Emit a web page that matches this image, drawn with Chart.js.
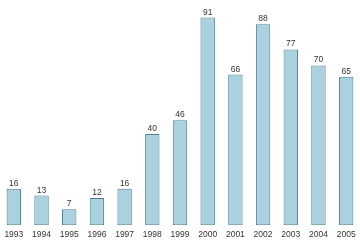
<!DOCTYPE html>
<html>
<head>
<meta charset="utf-8">
<script src="https://cdn.jsdelivr.net/npm/chart.js@4/dist/chart.umd.min.js"></script>
<style>
  html, body { margin: 0; padding: 0; background: #fff; }
  #wrap { width: 360px; height: 240px; }
</style>
</head>
<body>
<div id="wrap"><canvas id="chart"></canvas></div>
<script>
const years = ['1993', '1994', '1995', '1996', '1997', '1998', '1999', '2000', '2001', '2002', '2003', '2004', '2005'];
const counts = [16, 13, 7, 12, 16, 40, 46, 91, 66, 88, 77, 70, 65];

// writes the value just above each bar
const valueLabels = {
  id: 'valueLabels',
  afterDatasetsDraw(chart) {
    const ctx = chart.ctx;
    const meta = chart.getDatasetMeta(0);
    ctx.save();
    ctx.font = '8.5px "Liberation Sans", Arial, sans-serif';
    ctx.fillStyle = '#333';
    ctx.textAlign = 'center';
    ctx.textBaseline = 'bottom';
    meta.data.forEach((bar, i) => {
      ctx.fillText(String(counts[i]), bar.x, bar.y - 1);
    });
    ctx.restore();
  }
};

new Chart(document.getElementById('chart').getContext('2d'), {
  type: 'bar',
  data: {
    labels: years,
    datasets: [{
      data: counts,
      backgroundColor: '#abd0de',
      borderColor: '#4d8091',
      borderWidth: 1,
      borderSkipped: false,
      categoryPercentage: 1,
      barPercentage: 0.52
    }]
  },
  options: {
    responsive: true,
    maintainAspectRatio: false,
    animation: false,
    layout: { padding: { left: -2.5, right: -2.5, top: 6, bottom: -3.5 } },
    plugins: {
      legend: { display: false },
      tooltip: { enabled: false }
    },
    scales: {
      x: {
        grid: { display: false, drawTicks: false },
        border: { display: false },
        ticks: {
          color: '#333',
          font: { family: '"Liberation Sans", Arial, sans-serif', size: 8.5 },
          padding: 4,
          maxRotation: 0,
          autoSkip: false
        }
      },
      y: {
        display: false,
        min: 0,
        max: 96
      }
    }
  },
  plugins: [valueLabels]
});
</script>
</body>
</html>
